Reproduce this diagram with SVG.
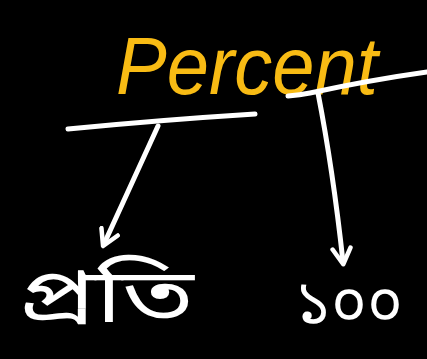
<svg xmlns="http://www.w3.org/2000/svg" width="427" height="359" viewBox="0 0 427 359">
<style>
.bg{fill:#000}
.ln{stroke:#fff;stroke-width:5;stroke-linecap:round;stroke-linejoin:round;fill:none}
.title{fill:#f8bb14;font-family:"Liberation Sans",sans-serif;font-style:italic}
.bn{fill:#fff;font-family:"Noto Sans Bengali","Noto Serif Bengali","Lohit Bengali","Noto Sans",sans-serif}
</style>
<defs>
<marker id="ah" viewBox="0 0 10 10" refX="7" refY="5" markerWidth="4.5" markerHeight="4.5" orient="auto">
<path d="M1,1 L8,5 L1,9" fill="none" stroke="#fff" stroke-width="2" stroke-linecap="round" stroke-linejoin="round"/>
</marker>
</defs>
<rect class="bg" x="0" y="0" width="427" height="359"/>
<g id="percent">
<text class="title" x="116" y="94" font-size="82" textLength="262" lengthAdjust="spacingAndGlyphs">Percent</text>
</g>
<g id="connectors">
<path class="ln" d="M68,129 Q160,120 255,114"/>
<path class="ln" d="M288,96 Q300,95 310,93 Q370,80 427,72"/>
<path class="ln" d="M158,126 L104,244" marker-end="url(#ah)"/>
<path class="ln" d="M318,93 Q333,170 343,262" marker-end="url(#ah)"/>
</g>
<g id="proti">
<text class="bn" x="18" y="322" font-size="76" textLength="176" lengthAdjust="spacingAndGlyphs">প্রতি</text>
</g>
<g id="hundred">
<text class="bn" x="295" y="324" font-size="62" textLength="108" lengthAdjust="spacingAndGlyphs">১০০</text>
</g>
</svg>
